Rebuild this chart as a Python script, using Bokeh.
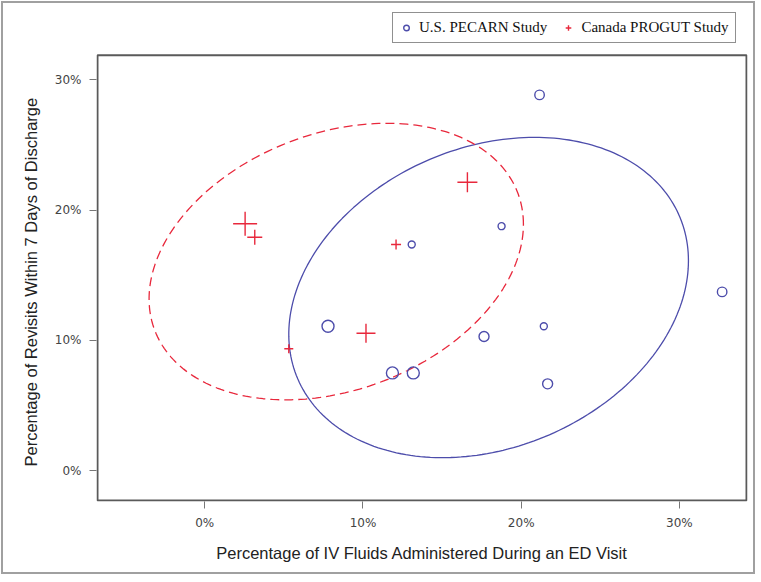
import numpy as np
from bokeh.plotting import figure
from bokeh.models import (ColumnDataSource, Range1d, FixedTicker, Legend, LegendItem,
                          BoxAnnotation, Title)
from bokeh.embed import file_html
from bokeh.resources import INLINE

# ---- data (percent) ----
us_x = [13.08, 7.79, 11.86, 13.18, 21.16, 18.76, 32.70, 21.43, 17.65, 21.67]
us_y = [17.36, 11.08, 7.50, 7.50, 28.85, 18.77, 13.72, 11.08, 10.29, 6.66]
us_size = [7, 12, 12, 12, 9.5, 7, 9.5, 7, 10, 10]

ca_x = [2.55, 3.16, 12.09, 10.19, 5.31, 16.60]
ca_y = [18.95, 17.92, 17.36, 10.55, 9.35, 22.14]
ca_size = [24, 15, 10, 19, 9, 20]

# confidence ellipses: center x, center y, x half-extent, y half-extent, correlation
us_ell = dict(cx=17.94, cy=13.29, hx=12.63, hy=12.30, rho=0.23)
ca_ell = dict(cx=8.31, cy=16.05, hx=11.83, hy=10.62, rho=0.27)

tick_vals = [0, 10, 20, 30]
tick_labels = ["0%", "10%", "20%", "30%"]

x_title = "Percentage of IV Fluids Administered During an ED Visit"
y_title = "Percentage of Revisits Within 7 Days of Discharge"

# visible plot box (data units); the frame extends above it to host the legend
X0, X1, Y0, Y1 = -6.78, 34.24, -2.30, 31.9
# frame range (1px padding around the box so its border is not clipped)
FX0, FX1, FY0, FY1 = -6.843, 34.303, -2.377, 35.18

BLUE = "#4d4dab"
RED = "#e8283c"


def ellipse_pts(e, n=240):
    t = np.linspace(0, 2 * np.pi, n)
    x = e["cx"] + e["hx"] * np.cos(t)
    y = e["cy"] + e["hy"] * (e["rho"] * np.cos(t) + np.sqrt(1 - e["rho"] ** 2) * np.sin(t))
    return x, y


p = figure(width=754, height=573, output_backend="svg", toolbar_location=None,
           x_range=Range1d(FX0, FX1), y_range=Range1d(FY0, FY1),
           min_border_left=93, min_border_right=10, min_border_top=9, min_border_bottom=75,
           styles={"border": "2px solid #a0a0a0", "margin": "1px"})

p.grid.visible = False
p.outline_line_color = None
p.background_fill_color = "white"
p.border_fill_color = "white"

p.add_layout(BoxAnnotation(left=X0, right=X1, bottom=Y0, top=Y1, fill_alpha=0,
                           line_color="#5a5a5a", line_alpha=1, line_width=2))

ex, ey = ellipse_pts(us_ell)
p.line(ex, ey, line_color=BLUE, line_width=1.3)
ex, ey = ellipse_pts(ca_ell)
p.line(ex, ey, line_color=RED, line_width=1.3, line_dash="9 5")

us_src = ColumnDataSource(dict(x=us_x, y=us_y, s=us_size))
ca_src = ColumnDataSource(dict(x=ca_x, y=ca_y, s=ca_size))
p.scatter("x", "y", size="s", source=us_src, marker="circle", fill_alpha=0,
          line_color=BLUE, line_width=1.4)
p.scatter("x", "y", size="s", source=ca_src, marker="cross",
          line_color=RED, line_width=1.4)

# legend proxies
lg_us = p.scatter([np.nan], [np.nan], marker="circle", size=7, fill_alpha=0,
                  line_color=BLUE, line_width=1.4)
lg_ca = p.scatter([np.nan], [np.nan], marker="cross", size=9,
                  line_color=RED, line_width=1.4)

legend = Legend(items=[LegendItem(label="U.S. PECARN Study", renderers=[lg_us]),
                       LegendItem(label="Canada PROGUT Study", renderers=[lg_ca])],
                location=(296, 458), orientation="horizontal",
                label_text_font="Liberation Serif", label_text_font_size="15px",
                label_text_color="#111111",
                glyph_width=14, glyph_height=15, label_height=15, label_standoff=6,
                spacing=14, padding=6, margin=0,
                border_line_color="#222222", border_line_width=1,
                background_fill_color="white", background_fill_alpha=1)
p.add_layout(legend, "center")

for ax in (p.xaxis, p.yaxis):
    ax.ticker = FixedTicker(ticks=tick_vals)
    ax.major_label_overrides = {v: l for v, l in zip(tick_vals, tick_labels)}
    ax.axis_line_color = None
    ax.major_tick_line_color = "#777777"
    ax.major_tick_line_width = 1
    ax.major_tick_out = 7
    ax.major_tick_in = 0
    ax.minor_tick_line_color = None
    ax.major_label_text_font = "DejaVu Sans"
    ax.major_label_text_font_size = "12px"
    ax.major_label_text_color = "#444444"
    ax.axis_label_text_font = "Liberation Sans"
    ax.axis_label_text_font_size = "16.5px"
    ax.axis_label_text_font_style = "normal"
    ax.axis_label_text_color = "#222222"

p.xaxis.axis_label = x_title
p.xaxis.major_label_standoff = 7
p.yaxis.major_label_standoff = 8
p.xaxis.axis_label_standoff = 11

# y-axis title as a side-panel title so it can be centred on the visible box
yt = Title(text=y_title, align="left", offset=35, standoff=24,
           text_font="Liberation Sans", text_font_size="16.5px",
           text_font_style="normal", text_color="#222222")
p.add_layout(yt, "left")

open("out.html", "w").write(file_html(p, INLINE))
